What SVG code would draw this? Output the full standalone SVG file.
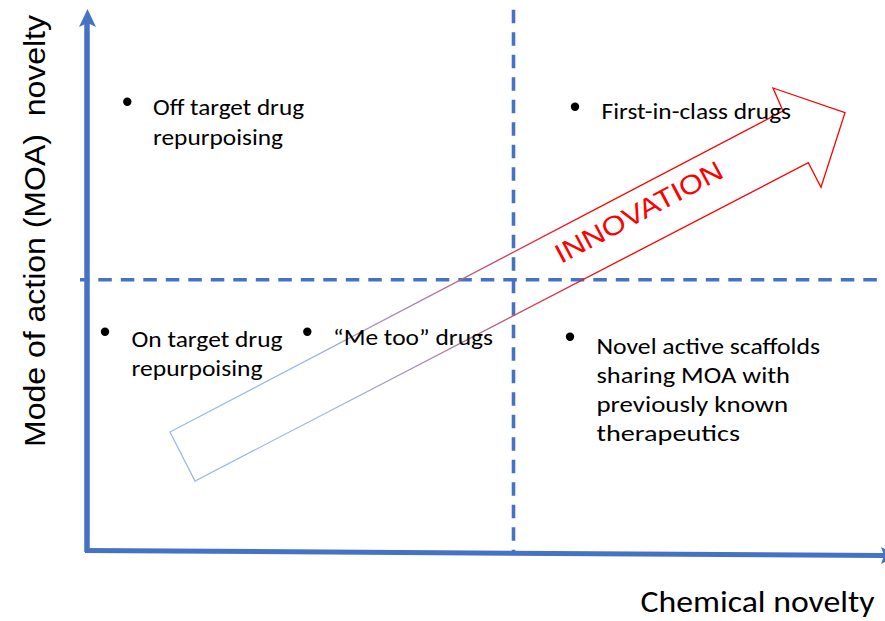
<svg xmlns="http://www.w3.org/2000/svg" width="885" height="621" viewBox="0 0 885 621">
  <defs>
    <style>
      .t { font-family: Carlito, "Liberation Sans", Arial, sans-serif; font-size: 23px; fill: #000; }
      .axis { stroke: #4472c4; fill: none; }
      .dash { stroke: #4472c4; stroke-width: 3.6; stroke-dasharray: 13.5 9; fill: none; }
      .bullet { fill: #000; }
    </style>
    <linearGradient id="g" gradientUnits="userSpaceOnUse" x1="320" y1="400" x2="610" y2="250">
      <stop offset="0" stop-color="#9dbbe6"/>
      <stop offset="0.5" stop-color="#b0709e"/>
      <stop offset="1" stop-color="#ff0000"/>
    </linearGradient>
  </defs>
  <rect width="885" height="621" fill="#ffffff"/>

  <g id="connectors">
    <line class="dash" x1="513.5" y1="9.7" x2="513.5" y2="552"/>
    <line class="dash" x1="80" y1="279.7" x2="885" y2="279.7" stroke-dashoffset="4.2"/>
    <line class="axis" x1="87" y1="552" x2="87" y2="22" stroke-width="5.5"/>
    <polygon fill="#4472c4" points="87.5,9 96,27 87.5,23 79,27"/>
    <line class="axis" x1="85" y1="550.5" x2="884" y2="555.5" stroke-width="5"/>
    <polygon fill="#4472c4" points="898,556 881,547 884,555.5 881,564"/>
    <polygon id="innovation-arrow" fill="none" stroke="url(#g)" stroke-width="1.3" stroke-linejoin="miter"
      points="170,432 783,111 773,88 845,112.7 821,187.3 808.3,162.7 195,481"/>
  </g>

  <g id="y-label">
    <text class="t" style="font-family:'Liberation Sans',Arial,sans-serif;font-size:30px" transform="translate(45,447) rotate(-90)" textLength="432" lengthAdjust="spacingAndGlyphs" xml:space="preserve">Mode of action (MOA)  novelty</text>
  </g>
  <g id="x-label">
    <text class="t" style="font-size:30px" x="640.5" y="612" textLength="234" lengthAdjust="spacingAndGlyphs">Chemical novelty</text>
  </g>

  <g id="off-target">
    <circle class="bullet" cx="127.3" cy="101.7" r="4.2"/>
    <text class="t" x="153" y="115" textLength="151" lengthAdjust="spacingAndGlyphs">Off target drug</text>
    <text class="t" x="153" y="145" textLength="130" lengthAdjust="spacingAndGlyphs">repurpoising</text>
  </g>

  <g id="first-in-class">
    <circle class="bullet" cx="575" cy="106.7" r="4.2"/>
    <text class="t" x="601.5" y="119" textLength="189.5" lengthAdjust="spacingAndGlyphs">First-in-class drugs</text>
  </g>

  <g id="on-target">
    <circle class="bullet" cx="105" cy="331.7" r="4.2"/>
    <text class="t" x="131.5" y="346.5" textLength="151" lengthAdjust="spacingAndGlyphs">On target drug</text>
    <text class="t" x="131.5" y="376" textLength="131" lengthAdjust="spacingAndGlyphs">repurpoising</text>
  </g>

  <g id="me-too">
    <circle class="bullet" cx="307.3" cy="331.7" r="4.2"/>
    <text class="t" x="333" y="344.5" textLength="160" lengthAdjust="spacingAndGlyphs">“Me too” drugs</text>
  </g>

  <g id="novel-scaffolds">
    <circle class="bullet" cx="570" cy="336.7" r="4.2"/>
    <text class="t" x="596.5" y="353.5" textLength="223.5" lengthAdjust="spacingAndGlyphs">Novel active scaffolds</text>
    <text class="t" x="596.5" y="382.5" textLength="193.5" lengthAdjust="spacingAndGlyphs">sharing MOA with</text>
    <text class="t" x="596.5" y="411.5" textLength="191.5" lengthAdjust="spacingAndGlyphs">previously known</text>
    <text class="t" x="596.5" y="440.5" textLength="143.5" lengthAdjust="spacingAndGlyphs">therapeutics</text>
  </g>

  <g id="innovation-label">
    <text transform="translate(561,264) rotate(-28)" style="font-family:'Liberation Sans',Arial,sans-serif;font-size:27px;fill:#ff0000" textLength="186" lengthAdjust="spacingAndGlyphs">INNOVATION</text>
  </g>
</svg>
